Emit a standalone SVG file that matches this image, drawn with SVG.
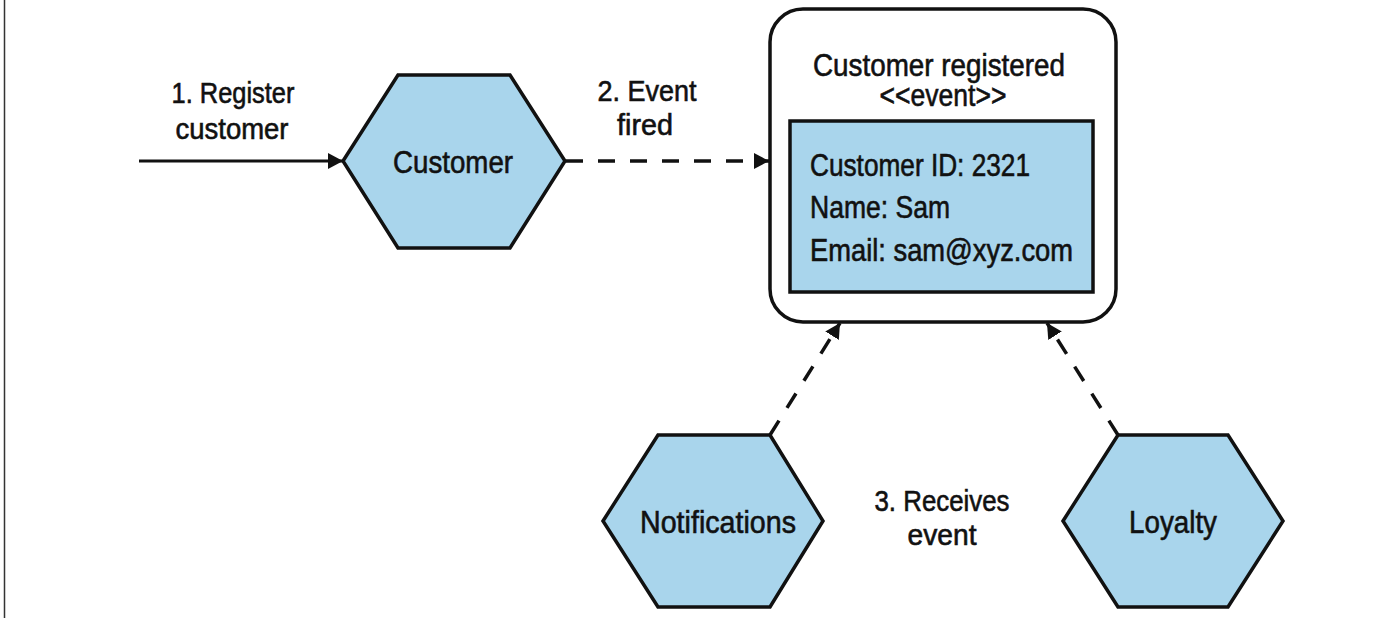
<svg xmlns="http://www.w3.org/2000/svg" width="1400" height="618" viewBox="0 0 1400 618">
<style>
  .hex { fill: #a9d5ec; stroke: #111; stroke-width: 3.5; stroke-linejoin: miter; }
  .t { font-family: "Liberation Sans", Arial, sans-serif; fill: #111; stroke: #111; stroke-width: 0.6; }
  .node { font-size: 31px; text-anchor: middle; }
  .lbl { font-size: 29.5px; text-anchor: middle; }
  .field { font-size: 30.5px; }
  .solid { stroke: #111; stroke-width: 3; fill: none; }
  .dash { stroke: #111; stroke-width: 3.5; fill: none; stroke-dasharray: 17 15; }
</style>
<defs>
  <marker id="arr" markerUnits="userSpaceOnUse" markerWidth="16" markerHeight="16" viewBox="0 0 16 16" refX="15" refY="8" orient="auto">
    <path d="M0,0 L15,8 L0,16 Z" fill="#111"/>
  </marker>
</defs>
<rect x="0" y="0" width="1400" height="618" fill="#fff"/>
<line x1="4.5" y1="0" x2="4.5" y2="618" stroke="#333" stroke-width="1.5"/>

<g id="connectors">
  <line class="solid" x1="139" y1="161" x2="343" y2="161" marker-end="url(#arr)"/>
  <line class="dash" x1="566" y1="161" x2="769" y2="161" marker-end="url(#arr)"/>
  <line class="dash" x1="770" y1="435" x2="840" y2="323" marker-end="url(#arr)"/>
  <line class="dash" x1="1118" y1="435" x2="1047" y2="323" marker-end="url(#arr)"/>
</g>

<g id="labels">
  <text class="t lbl" x="233" y="103" textLength="123" lengthAdjust="spacingAndGlyphs">1. Register</text>
  <text class="t lbl" x="232" y="139" textLength="113" lengthAdjust="spacingAndGlyphs">customer</text>
  <text class="t lbl" x="647" y="101" textLength="99" lengthAdjust="spacingAndGlyphs">2. Event</text>
  <text class="t lbl" x="645" y="135" textLength="56" lengthAdjust="spacingAndGlyphs">fired</text>
  <text class="t lbl" x="942" y="511" textLength="135" lengthAdjust="spacingAndGlyphs">3. Receives</text>
  <text class="t lbl" x="942" y="545" textLength="69" lengthAdjust="spacingAndGlyphs">event</text>
</g>

<g id="customer">
  <polygon class="hex" points="343,161 398,75 510,75 565,161 510,248 398,248"/>
  <text class="t node" x="453" y="173" textLength="120" lengthAdjust="spacingAndGlyphs">Customer</text>
</g>

<g id="event">
  <rect x="770" y="9" width="346" height="313" rx="33" ry="33" fill="#fff" stroke="#111" stroke-width="3.5"/>
  <text class="t node" x="939" y="76" font-size="30" textLength="252" lengthAdjust="spacingAndGlyphs">Customer registered</text>
  <text class="t node" x="943" y="106" font-size="29" textLength="127" lengthAdjust="spacingAndGlyphs">&lt;&lt;event&gt;&gt;</text>
  <rect x="790" y="121" width="303" height="171" fill="#a9d5ec" stroke="#111" stroke-width="3.5"/>
  <text class="t field" x="810" y="176" textLength="220" lengthAdjust="spacingAndGlyphs">Customer ID: 2321</text>
  <text class="t field" x="810" y="218" textLength="140" lengthAdjust="spacingAndGlyphs">Name: Sam</text>
  <text class="t field" x="810" y="261" textLength="263" lengthAdjust="spacingAndGlyphs">Email: sam@xyz.com</text>
</g>

<g id="notifications">
  <polygon class="hex" points="603,521 658,435 770,435 823,521 770,607 658,607"/>
  <text class="t node" x="718" y="533" textLength="156" lengthAdjust="spacingAndGlyphs">Notifications</text>
</g>

<g id="loyalty">
  <polygon class="hex" points="1063,521 1118,435 1228,435 1283,521 1228,607 1118,607"/>
  <text class="t node" x="1173" y="533" textLength="88" lengthAdjust="spacingAndGlyphs">Loyalty</text>
</g>
</svg>
